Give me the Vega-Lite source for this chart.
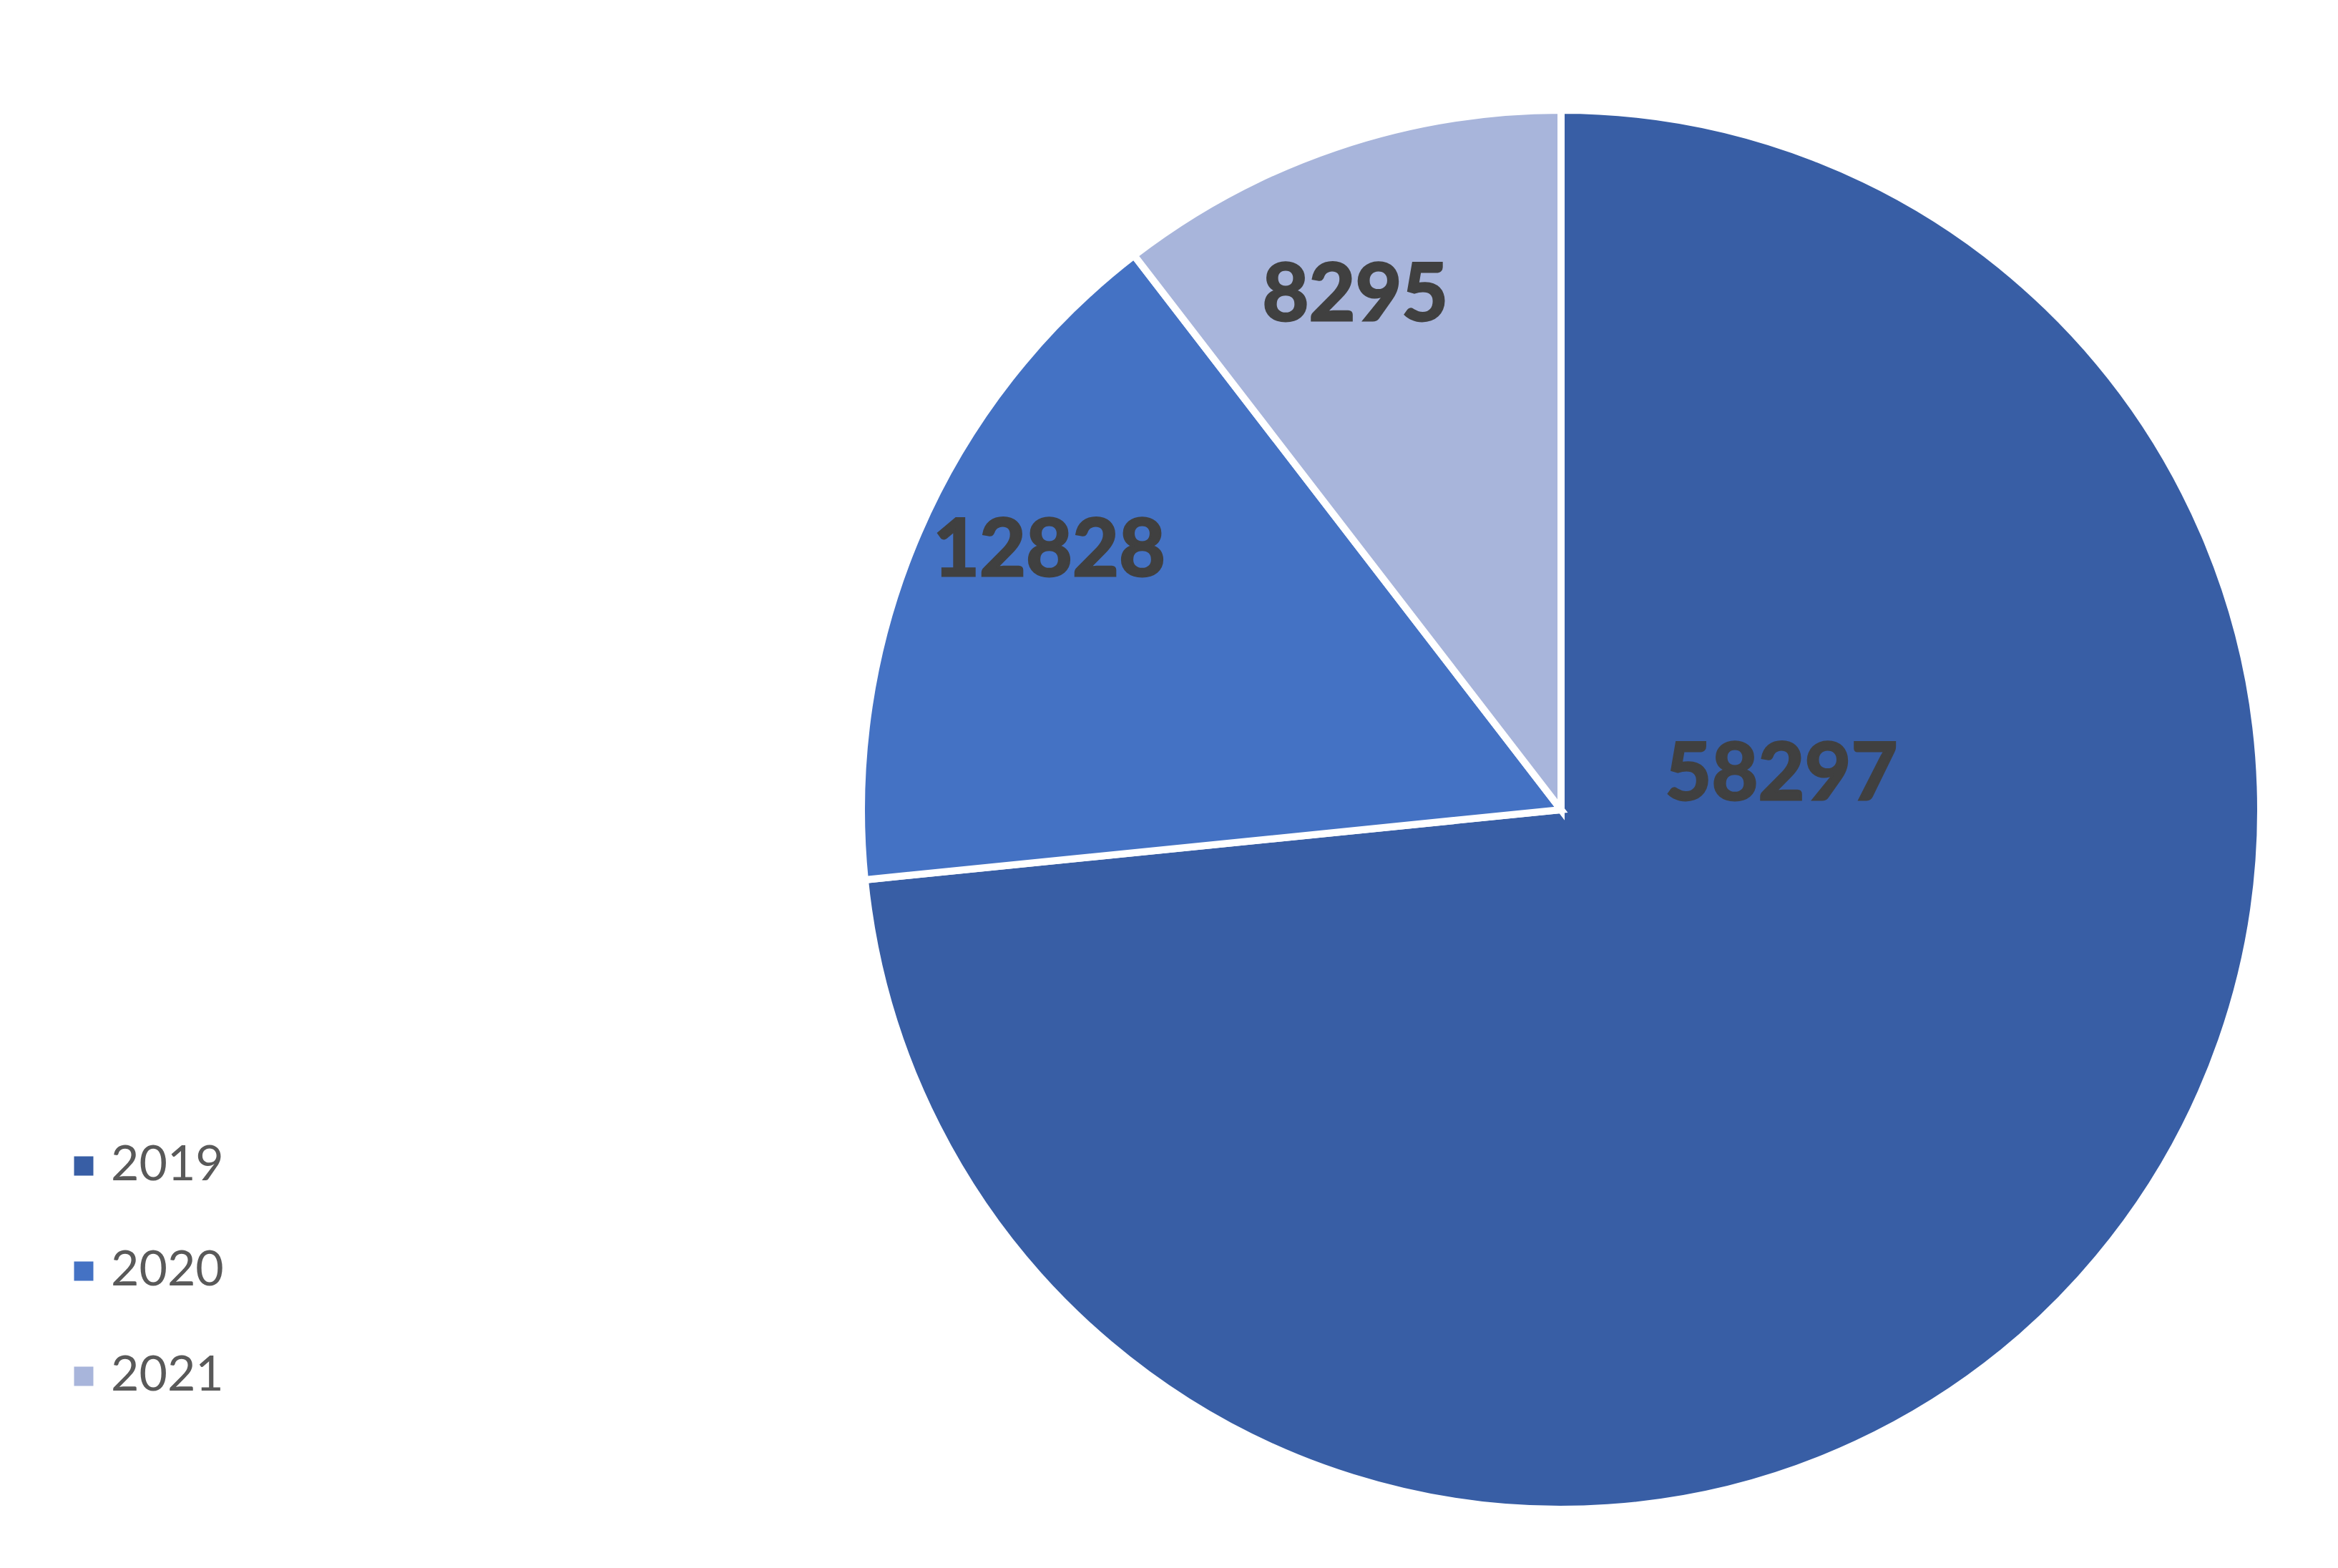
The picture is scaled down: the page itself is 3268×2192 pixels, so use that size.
{
  "$schema": "https://vega.github.io/schema/vega-lite/v6.json",
  "width": 1956,
  "height": 1956,
  "autosize": {"type": "none"},
  "padding": {"left": 1204, "top": 154, "right": 108, "bottom": 82},
  "background": "white",
  "config": {"view": {"stroke": null}},
  "data": {
    "values": [
      {"year": "2019", "count": 58297},
      {"year": "2020", "count": 12828},
      {"year": "2021", "count": 8295}
    ]
  },
  "encoding": {
    "theta": {"field": "count", "type": "quantitative", "stack": true},
    "order": {"field": "year", "type": "ordinal", "sort": "ascending"}
  },
  "layer": [
    {
      "mark": {"type": "arc", "stroke": "white", "strokeWidth": 10},
      "encoding": {
        "color": {
          "field": "year",
          "type": "nominal",
          "scale": {"domain": ["2019", "2020", "2021"], "range": ["#385EA5", "#4472C4", "#A8B5DB"]},
          "legend": {
            "orient": "none",
            "legendX": -1121,
            "legendY": 1442,
            "title": null,
            "symbolType": "square",
            "symbolSize": 729,
            "symbolStrokeWidth": 0,
            "labelFont": "Lato",
            "labelFontSize": 68,
            "labelColor": "#595959",
            "labelOffset": 4,
            "rowPadding": 79,
            "padding": 0
          }
        }
      }
    },
    {
      "mark": {"type": "text", "radius": 790, "dx": 10, "dy": -48, "font": "Lato", "fontWeight": "bold", "fontSize": 112, "color": "#404040", "stroke": "#404040", "strokeWidth": 3, "align": "center", "baseline": "middle"},
      "encoding": {
        "text": {"condition": {"test": "datum.year != '2020'", "value": ""}, "field": "count", "type": "quantitative", "format": "d"}
      }
    },
    {
      "mark": {"type": "text", "radius": 790, "dx": -33, "dy": 30, "font": "Lato", "fontWeight": "bold", "fontSize": 112, "color": "#404040", "stroke": "#404040", "strokeWidth": 3, "align": "center", "baseline": "middle"},
      "encoding": {
        "text": {"condition": {"test": "datum.year != '2021'", "value": ""}, "field": "count", "type": "quantitative", "format": "d"}
      }
    },
    {
      "mark": {"type": "text", "radius": 0, "dx": 308, "dy": -48, "font": "Lato", "fontWeight": "bold", "fontSize": 112, "color": "#404040", "stroke": "#404040", "strokeWidth": 3, "align": "center", "baseline": "middle"},
      "encoding": {
        "text": {"condition": {"test": "datum.year != '2019'", "value": ""}, "field": "count", "type": "quantitative", "format": "d"}
      }
    }
  ]
}
